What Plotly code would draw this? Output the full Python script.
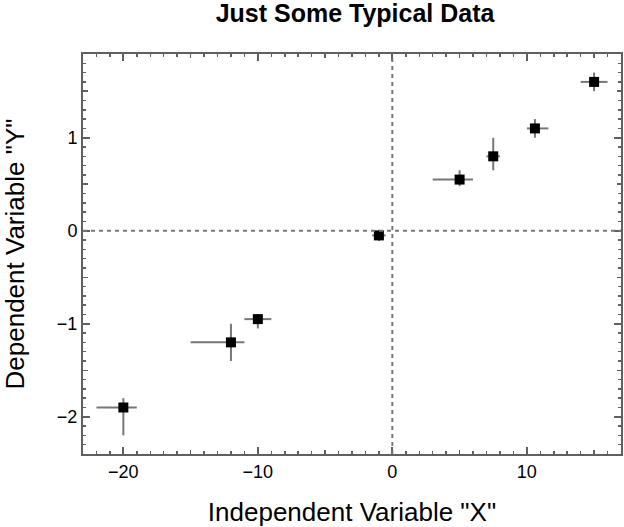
import plotly.graph_objects as go

# Data
x_vals = [-20, -12, -10, -1, 5, 7.5, 10.6, 15]
y_vals = [-1.9, -1.2, -0.95, -0.05, 0.55, 0.8, 1.1, 1.6]
x_err_plus = [1.0, 1.0, 1.0, 0.5, 1.0, 0.5, 1.0, 1.0]
x_err_minus = [2.0, 3.0, 1.0, 0.5, 2.0, 0.5, 0.6, 1.0]
y_err_plus = [0.1, 0.2, 0.05, 0.06, 0.1, 0.2, 0.1, 0.1]
y_err_minus = [0.3, 0.2, 0.1, 0.06, 0.07, 0.15, 0.1, 0.1]

title_text = "<b>Just Some Typical Data</b>"
x_title = 'Independent Variable "X"'
y_title = 'Dependent Variable "Y"'
x_range = [-23, 17]
y_range = [-2.4, 1.9]

FONT = "Liberation Sans, Arial, Helvetica, sans-serif"
AX = "#606060"
ERR = "#777777"

fig = go.Figure()
fig.add_trace(go.Scatter(
    x=x_vals, y=y_vals, mode="markers",
    marker=dict(symbol="square", size=10, color="black"),
    error_x=dict(type="data", symmetric=False, array=x_err_plus,
                 arrayminus=x_err_minus, color=ERR, thickness=2, width=0),
    error_y=dict(type="data", symmetric=False, array=y_err_plus,
                 arrayminus=y_err_minus, color=ERR, thickness=2, width=0),
    showlegend=False, hoverinfo="skip",
))
# dummy trace to host the medium-tick overlay axes
fig.add_trace(go.Scatter(x=[None], y=[None], xaxis="x2", yaxis="y2",
                         showlegend=False, hoverinfo="skip"))

fig.add_vline(x=0, line=dict(color=ERR, width=2, dash="4px,4px"))
fig.add_hline(y=0, line=dict(color=ERR, width=2, dash="4px,4px"))

common = dict(showgrid=False, zeroline=False, ticks="inside", mirror="ticks",
              showline=True, linecolor=AX, linewidth=2, tickcolor=AX,
              automargin=False)

fig.update_layout(
    width=624, height=527,
    paper_bgcolor="white", plot_bgcolor="white",
    margin=dict(l=83, r=3, t=54, b=73),
    font=dict(family=FONT, color="black", size=18),
    title=dict(text=title_text, x=0.569, xanchor="center", y=0.974,
               yanchor="middle", yref="container", xref="container",
               font=dict(family=FONT, size=25, color="black")),
    xaxis=dict(range=x_range, dtick=10, tick0=0, ticklen=7, tickwidth=2,
               minor=dict(dtick=1, tick0=0, ticklen=3, tickwidth=1.5,
                          ticks="inside", tickcolor=AX),
               title=dict(text=x_title, font=dict(size=26), standoff=24),
               **common),
    yaxis=dict(range=y_range, dtick=1, tick0=0, ticklen=7, tickwidth=2,
               minor=dict(dtick=0.1, tick0=0, ticklen=3, tickwidth=1.5,
                          ticks="inside", tickcolor=AX),
               title=dict(text=y_title, font=dict(size=26), standoff=26),
               **common),
    xaxis2=dict(overlaying="x", anchor="y2", range=x_range, dtick=5, tick0=0,
                ticks="inside", ticklen=4, tickwidth=1.5, tickcolor=AX,
                mirror="ticks", showline=False, showgrid=False,
                zeroline=False, showticklabels=False),
    yaxis2=dict(overlaying="y", anchor="x2", range=y_range, dtick=0.5, tick0=0,
                ticks="inside", ticklen=4.5, tickwidth=1.5, tickcolor=AX,
                mirror="ticks", showline=False, showgrid=False,
                zeroline=False, showticklabels=False),
)

fig.write_html("out.html",
               config={"displayModeBar": False, "staticPlot": True},
               post_script="document.body.style.margin='0';"
                           "document.body.style.overflow='hidden';")
